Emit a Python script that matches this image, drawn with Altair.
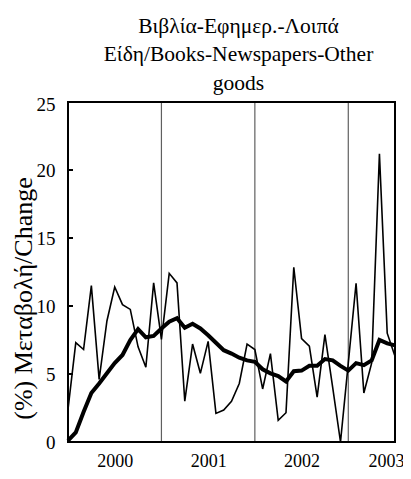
import altair as alt
import pandas as pd

# month index 0 = Jan 2000 ... 42 = Jul 2003
months = list(range(43))
monthly_change = [2.4, 7.3, 6.8, 11.5, 4.6, 8.9, 11.4, 10.1, 9.75, 7.0, 5.5, 11.7,
                  7.55, 12.4, 11.7, 3.0, 7.2, 5.05, 7.4, 2.1, 2.35, 3.0, 4.3, 7.2,
                  6.8, 3.9, 6.5, 1.6, 2.15, 12.85, 7.6, 7.05, 3.3, 7.9, 4.0, 0.0,
                  5.8, 11.67, 3.6, 5.8, 21.2, 8.0, 6.3]
moving_avg = [0.1, 0.7, 2.2, 3.6, 4.3, 5.05, 5.8, 6.4, 7.5, 8.3, 7.7, 7.8,
              8.35, 8.85, 9.1, 8.4, 8.7, 8.35, 7.85, 7.3, 6.75, 6.5, 6.2, 6.0,
              5.9, 5.35, 5.05, 4.85, 4.45, 5.2, 5.25, 5.6, 5.6, 6.1, 6.0, 5.6,
              5.25, 5.8, 5.65, 6.0, 7.5, 7.25, 7.1]
year_breaks = [12, 24, 36]
year_label_pos = [6, 18, 30, 42]
y_ticks = [0, 5, 10, 15, 20, 25]
inner_ticks = [5, 10, 15, 20]
x_range = [0, 42]
y_range = [0, 25]

FONT = "Liberation Serif"
W, H = 327, 340

df = pd.DataFrame({"i": months, "m": monthly_change, "a": moving_avg})
df_years = pd.DataFrame({"yr": year_breaks})
df_ticks = pd.DataFrame({"v": inner_ticks})
df_xedges = pd.DataFrame({"xe": x_range})
df_yedges = pd.DataFrame({"ye": y_range})

xscale = alt.Scale(domain=x_range, nice=False, zero=False)
yscale = alt.Scale(domain=y_range, nice=False)

xaxis = alt.Axis(values=year_label_pos,
                 labelExpr="toString(2000 + (datum.value - 6) / 12)",
                 grid=False, ticks=False, tickSize=0, domain=False,
                 labelFont=FONT, labelFontSize=18, labelColor="black",
                 labelPadding=10, labelFlush=False, labelOverlap=False,
                 labelBound=False,
                 labelOffset={"condition": {"test": "datum.value === 42", "value": -9}, "value": 0},
                 title="")
yaxis = alt.Axis(values=y_ticks, grid=False, ticks=False, tickSize=0, domain=False,
                 labelFont=FONT, labelFontSize=19, labelColor="black",
                 labelPadding=13,
                 labelOffset={"condition": {"test": "datum.value === 25", "value": 2}, "value": 0},
                 title="(%) Μεταβολή/Change", titleFont=FONT, titleFontSize=26,
                 titleFontWeight="normal", titleColor="black",
                 titleX=-45, titleY=196, titleAngle=270,
                 titleAlign="center", titleBaseline="middle")

X = lambda f: alt.X(f, scale=xscale, axis=xaxis, title="")
Y = lambda f: alt.Y(f, scale=yscale, axis=yaxis, title="(%) Μεταβολή/Change")

vedges = alt.Chart(df_xedges).mark_rule(color="black", strokeWidth=2).encode(
    x=X("xe:Q"))
hedges = alt.Chart(df_yedges).mark_rule(color="black", strokeWidth=2).encode(
    y=Y("ye:Q"))

years = alt.Chart(df_years).mark_rule(color="#606060", strokeWidth=1.2).encode(
    x=X("yr:Q"))

ticks = alt.Chart(df_ticks).mark_rule(color="black", strokeWidth=2).encode(
    y=Y("v:Q"), x=alt.value(0), x2=alt.value(5))

thin = alt.Chart(df).mark_line(color="black", strokeWidth=1.6).encode(
    x=X("i:Q"), y=Y("m:Q"))

thick = alt.Chart(df).mark_line(color="black", strokeWidth=4).encode(
    x=X("i:Q"), y=Y("a:Q"))

chart = alt.layer(years, vedges, hedges, ticks, thin, thick).properties(
    width=W, height=H,
    autosize=alt.AutoSizeParams(type="none"),
    padding={"left": 60, "top": 94, "right": 8, "bottom": 29},
    title=alt.TitleParams(
        text=["Βιβλία-Εφημερ.-Λοιπά", "Είδη/Books-Newspapers-Other", "goods"],
        font=FONT, fontSize=21.5, fontWeight="normal", color="black",
        lineHeight=28.5, offset=1, anchor="middle", dx=7),
).configure(background="white").configure_view(stroke="black", strokeWidth=2)

chart.save("out.html", embed_options={"renderer": "svg", "actions": False})
